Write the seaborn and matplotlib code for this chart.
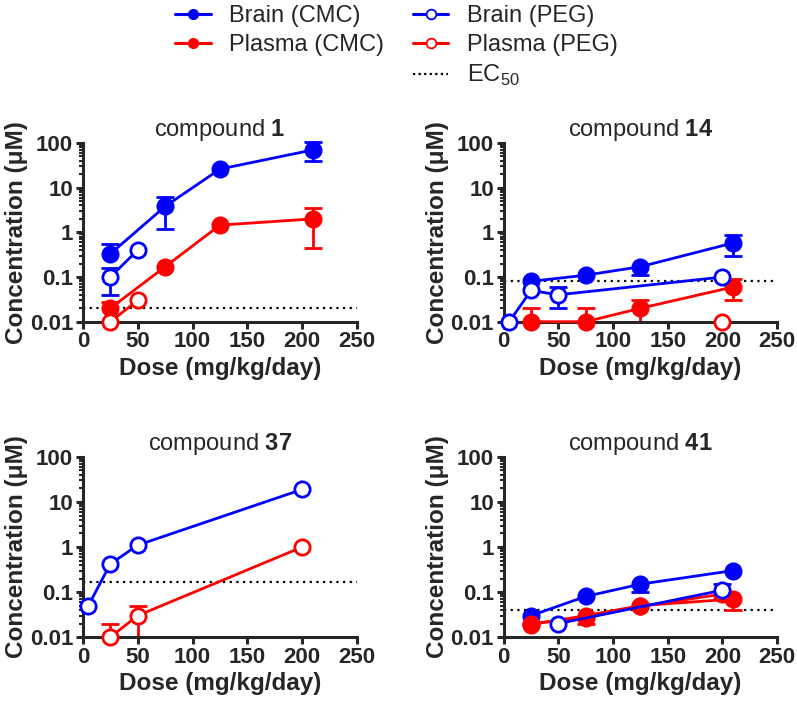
import numpy as np
import matplotlib
matplotlib.use("Agg")
import matplotlib.pyplot as plt
from matplotlib.lines import Line2D
from matplotlib.ticker import FixedLocator, FuncFormatter, LogLocator, NullFormatter
import seaborn as sns

# ============================================================================
# DATA
# ============================================================================

nan = np.nan

dose_cmc = [25, 75, 125, 210]

# compound 1
c1_brain_cmc = [0.33, 3.8, 26, 70]
c1_brain_cmc_hi = [0.55, 6.3, nan, 105]
c1_brain_cmc_lo = [nan, 1.2, nan, 40]
c1_plasma_cmc = [0.02, 0.17, 1.45, 2.0]
c1_plasma_cmc_hi = [0.028, nan, nan, 3.5]
c1_plasma_cmc_lo = [nan, nan, nan, 0.45]
c1_peg_dose = [25, 50]
c1_brain_peg = [0.1, 0.4]
c1_brain_peg_hi = [0.16, nan]
c1_brain_peg_lo = [0.04, nan]
c1_plasma_peg_dose = [25, 50]
c1_plasma_peg = [0.01, 0.03]
c1_ec50 = 0.02

# compound 14
c14_brain_cmc = [0.08, 0.11, 0.17, 0.58]
c14_brain_cmc_hi = [nan, nan, nan, 0.85]
c14_brain_cmc_lo = [nan, nan, 0.11, 0.3]
c14_plasma_cmc = [0.01, 0.01, 0.02, 0.06]
c14_plasma_cmc_hi = [0.02, 0.02, 0.03, 0.09]
c14_plasma_cmc_lo = [nan, nan, 0.01, 0.03]
c14_peg_dose = [5, 25, 50, 200]
c14_brain_peg = [0.01, 0.05, 0.04, 0.1]
c14_brain_peg_hi = [nan, nan, 0.06, nan]
c14_brain_peg_lo = [nan, nan, 0.02, nan]
c14_plasma_peg_dose = [200]
c14_plasma_peg = [0.01]
c14_ec50 = 0.08

# compound 37 (PEG only)
c37_peg_dose = [5, 25, 50, 200]
c37_brain_peg = [0.05, 0.42, 1.1, 19]
c37_plasma_peg_dose = [25, 50, 200]
c37_plasma_peg = [0.01, 0.03, 1.0]
c37_plasma_peg_hi = [0.02, 0.05, nan]
c37_plasma_peg_lo = [nan, 0.01, nan]
c37_ec50 = 0.17

# compound 41
c41_brain_cmc = [0.03, 0.08, 0.15, 0.3]
c41_brain_cmc_hi = [nan, nan, nan, nan]
c41_brain_cmc_lo = [0.02, nan, 0.1, nan]
c41_plasma_cmc = [0.019, 0.03, 0.05, 0.07]
c41_plasma_cmc_hi = [nan, nan, nan, nan]
c41_plasma_cmc_lo = [nan, 0.02, nan, 0.04]
c41_peg_dose = [50, 200]
c41_brain_peg = [0.02, 0.11]
c41_brain_peg_hi = [nan, 0.15]
c41_brain_peg_lo = [nan, 0.07]
c41_plasma_peg_dose = [25, 75, 125, 200]
c41_plasma_peg = [0.02, 0.027, 0.048, 0.09]
c41_ec50 = 0.04

BLUE = "#0000ff"
RED = "#ff0000"

# ============================================================================
# STYLE
# ============================================================================

sns.set_style("ticks")
plt.rcParams["font.family"] = ["Liberation Sans", "DejaVu Sans"]
plt.rcParams["mathtext.fontset"] = "custom"
plt.rcParams["mathtext.rm"] = "Liberation Sans"
plt.rcParams["mathtext.bf"] = "Liberation Sans:bold"


def draw_series(ax, x, y, color, filled, hi=None, lo=None):
    x = np.asarray(x, dtype=float)
    y = np.asarray(y, dtype=float)
    for lim in (hi, lo):
        if lim is None:
            continue
        lim = np.asarray(lim, dtype=float)
        m = ~np.isnan(lim)
        ax.vlines(x[m], y[m], lim[m], color=color, lw=2.0, zorder=2)
        ax.plot(x[m], lim[m], ls="none", marker="_", ms=13, mew=2.0,
                color=color, zorder=2, clip_on=False)
    sns.lineplot(
        x=x, y=y, ax=ax, color=color, lw=2.0,
        marker="o", markersize=11,
        markerfacecolor=color if filled else "white",
        markeredgecolor=color, markeredgewidth=2.0,
        estimator=None, sort=False, clip_on=False, zorder=3,
    )


def style_axis(ax, title_num, ec50):
    ax.axhline(ec50, color="black", ls=(0, (1, 2)), lw=1.6, zorder=1)
    ax.set_yscale("log")
    ax.set_ylim(0.01, 100)
    ax.set_xlim(0, 250)
    ax.xaxis.set_major_locator(FixedLocator([0, 50, 100, 150, 200, 250]))
    ax.yaxis.set_major_locator(FixedLocator([0.01, 0.1, 1, 10, 100]))
    ax.yaxis.set_major_formatter(FuncFormatter(lambda v, p: f"{v:g}"))
    ax.yaxis.set_minor_locator(LogLocator(base=10, subs=np.arange(2, 10)))
    ax.yaxis.set_minor_formatter(NullFormatter())
    for s in ("top", "right"):
        ax.spines[s].set_visible(False)
    for s in ("left", "bottom"):
        ax.spines[s].set_linewidth(2.2)
    ax.tick_params(which="major", width=2.2, length=5, labelsize=16, pad=2)
    ax.tick_params(which="minor", width=1.5, length=3)
    for lab in ax.get_xticklabels() + ax.get_yticklabels():
        lab.set_fontweight("bold")
    ax.set_xlabel("Dose (mg/kg/day)", fontsize=17.5, fontweight="bold", labelpad=3)
    ax.set_ylabel("Concentration (μM)", fontsize=17.5, fontweight="bold", labelpad=1)
    ax.set_title("compound $\\mathbf{" + title_num + "}$", fontsize=17, pad=0)


# ============================================================================
# FIGURE
# ============================================================================

fig = plt.figure(figsize=(7.97, 7.04), dpi=100)
ax1 = fig.add_axes([0.104, 0.543, 0.344, 0.254])
ax2 = fig.add_axes([0.632, 0.543, 0.343, 0.254])
ax3 = fig.add_axes([0.104, 0.095, 0.344, 0.256])
ax4 = fig.add_axes([0.632, 0.095, 0.343, 0.256])

# compound 1
draw_series(ax1, dose_cmc, c1_brain_cmc, BLUE, True, c1_brain_cmc_hi, c1_brain_cmc_lo)
draw_series(ax1, dose_cmc, c1_plasma_cmc, RED, True, c1_plasma_cmc_hi, c1_plasma_cmc_lo)
draw_series(ax1, c1_peg_dose, c1_brain_peg, BLUE, False, c1_brain_peg_hi, c1_brain_peg_lo)
draw_series(ax1, c1_plasma_peg_dose, c1_plasma_peg, RED, False)
style_axis(ax1, "1", c1_ec50)

# compound 14
draw_series(ax2, dose_cmc, c14_brain_cmc, BLUE, True, c14_brain_cmc_hi, c14_brain_cmc_lo)
draw_series(ax2, dose_cmc, c14_plasma_cmc, RED, True, c14_plasma_cmc_hi, c14_plasma_cmc_lo)
draw_series(ax2, c14_peg_dose, c14_brain_peg, BLUE, False, c14_brain_peg_hi, c14_brain_peg_lo)
draw_series(ax2, c14_plasma_peg_dose, c14_plasma_peg, RED, False)
style_axis(ax2, "14", c14_ec50)

# compound 37
draw_series(ax3, c37_peg_dose, c37_brain_peg, BLUE, False)
draw_series(ax3, c37_plasma_peg_dose, c37_plasma_peg, RED, False, c37_plasma_peg_hi, c37_plasma_peg_lo)
style_axis(ax3, "37", c37_ec50)

# compound 41
draw_series(ax4, dose_cmc, c41_brain_cmc, BLUE, True, c41_brain_cmc_hi, c41_brain_cmc_lo)
draw_series(ax4, c41_plasma_peg_dose, c41_plasma_peg, RED, False)
draw_series(ax4, dose_cmc, c41_plasma_cmc, RED, True, c41_plasma_cmc_hi, c41_plasma_cmc_lo)
draw_series(ax4, c41_peg_dose, c41_brain_peg, BLUE, False, c41_brain_peg_hi, c41_brain_peg_lo)
style_axis(ax4, "41", c41_ec50)

# ============================================================================
# LEGEND
# ============================================================================

handles = [
    Line2D([], [], color=BLUE, lw=2.2, marker="o", ms=7, mfc=BLUE, mec=BLUE),
    Line2D([], [], color=RED, lw=2.2, marker="o", ms=7, mfc=RED, mec=RED),
    Line2D([], [], color="none"),
    Line2D([], [], color=BLUE, lw=2.2, marker="o", ms=7, mfc="white", mec=BLUE, mew=1.3),
    Line2D([], [], color=RED, lw=2.2, marker="o", ms=7, mfc="white", mec=RED, mew=1.3),
    Line2D([], [], color="black", lw=1.6, ls=(0, (1, 1.5))),
]
labels = ["Brain (CMC)", "Plasma (CMC)", "", "Brain (PEG)", "Plasma (PEG)", "EC$_{50}$"]
fig.legend(handles, labels, loc="upper left", bbox_to_anchor=(0.205, 1.01),
           ncol=2, frameon=False, fontsize=17, handlelength=1.5, borderpad=0,
           handletextpad=0.8, columnspacing=1.2, labelspacing=0.3)

fig.savefig("out.png", dpi=100)
